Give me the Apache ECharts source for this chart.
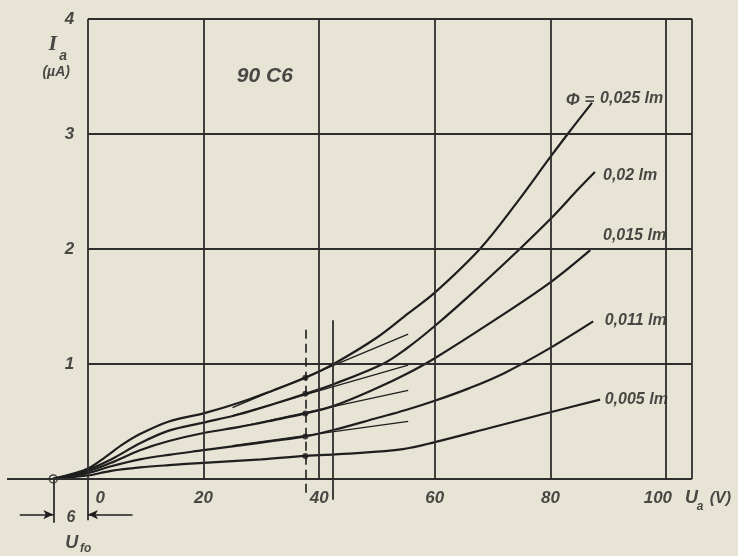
<!DOCTYPE html>
<html>
<head>
<meta charset="utf-8">
<title>90 C6</title>
<script src="https://cdn.jsdelivr.net/npm/echarts@6/dist/echarts.min.js"></script>
<style>
  html, body { margin: 0; padding: 0; background: #e7e3d5; }
  #chart { width: 738px; height: 556px; }
</style>
</head>
<body>
<div id="chart"></div>
<script>
// axis ticks
const xTicks = [0, 20, 40, 60, 80, 100]
const yTicks = [1, 2, 3, 4]

// anode current Ia (uA) vs anode voltage Ua (V), one array per luminous flux
const fluxLabels = ['0,025 lm', '0,02 lm', '0,015 lm', '0,011 lm', '0,005 lm']
const phi025 = [[-6, 0], [-3, 0.04], [0, 0.09], [3, 0.19], [6, 0.3], [9, 0.39], [14, 0.5], [20, 0.57], [26, 0.66], [32, 0.77], [37.6, 0.88], [42.5, 1.0], [50, 1.23], [55.4, 1.44], [60, 1.62], [67.8, 2.0], [74, 2.39], [80, 2.8], [83, 3.0], [87.2, 3.27]]
const phi02 = [[-6, 0], [-3, 0.035], [0, 0.08], [4, 0.17], [9, 0.31], [14, 0.42], [20, 0.49], [26, 0.56], [32, 0.65], [37.6, 0.74], [42.8, 0.83], [51, 1.0], [55, 1.13], [60, 1.33], [67, 1.64], [74.7, 2.0], [80, 2.26], [85, 2.53], [87.7, 2.67]]
const phi015 = [[-6, 0], [-3, 0.03], [0, 0.065], [4, 0.14], [9, 0.25], [14, 0.33], [20, 0.4], [26, 0.45], [32, 0.51], [37.6, 0.57], [42.8, 0.64], [50, 0.79], [55, 0.91], [60, 1.05], [70, 1.37], [80, 1.71], [86.9, 1.99]]
const phi011 = [[-6, 0], [-3, 0.025], [0, 0.05], [4, 0.11], [9, 0.17], [14, 0.21], [20, 0.25], [26, 0.29], [32, 0.33], [37.6, 0.37], [42.8, 0.43], [50, 0.53], [55, 0.6], [60, 0.68], [66, 0.79], [72, 0.92], [80, 1.14], [87.4, 1.37]]
const phi005 = [[-6, 0], [-3, 0.015], [0, 0.03], [4, 0.07], [9, 0.1], [14, 0.12], [20, 0.14], [30, 0.17], [37.6, 0.2], [45, 0.22], [54.5, 0.26], [60, 0.32], [70, 0.45], [80, 0.58], [88.6, 0.69]]

// straight extrapolations of the middle part
const ext025 = [[25, 0.62], [55.4, 1.26]]
const ext02 = [[25, 0.55], [55.4, 0.99]]
const ext015 = [[25, 0.44], [55.4, 0.77]]
const ext011 = [[25, 0.29], [55.4, 0.5]]

// working point marks on the dashed line
const markU = 37.6
const markIa = [0.88, 0.74, 0.57, 0.37, 0.2]
const ufo = -6

const ink = '#1e1e1e'
const font = "'Liberation Sans Narrow', 'Liberation Sans', sans-serif"

function seg(x1, y1, x2, y2) {
  return [{ coord: [x1, y1] }, { coord: [x2, y2] }]
}

function text(x, y, str, size, align, family) {
  return {
    value: [x, y],
    label: {
      show: true,
      formatter: str,
      fontSize: size,
      align: align || 'center',
      verticalAlign: 'middle',
      fontFamily: family || font,
      fontStyle: 'italic',
      fontWeight: 'bold',
      color: ink
    }
  }
}

// frame + grid
const xRight = 104.5
const gridLines = []
xTicks.forEach(t => gridLines.push(seg(t, 0, t, 4)))
gridLines.push(seg(xRight, 0, xRight, 4))
yTicks.forEach(t => gridLines.push(seg(0, t, xRight, t)))
gridLines.push(seg(-14, 0, xRight, 0))
gridLines.push(seg(0, 0, 0, -0.36))
gridLines.push(seg(ufo, 0, ufo, -0.38))
gridLines.push(seg(42.4, -0.18, 42.4, 1.38))

// texts
const texts = []
yTicks.forEach(t => texts.push(text(-3.2, t, String(t), 17)))
xTicks.forEach(t => texts.push(text(t === 0 ? 2.1 : (t === 100 ? 98.6 : t), -0.17, String(t), 17)))
texts.push(text(30.6, 3.5, '90 C6', 21))
texts.push(text(-6.1, 3.78, 'I', 22, 'center', "'Liberation Serif', serif"))
texts.push(text(-4.3, 3.68, 'a', 14))
texts.push(text(-5.5, 3.54, '(µA)', 14))
texts.push(text(104.4, -0.165, 'U', 18))
texts.push(text(105.9, -0.245, 'a', 12))
texts.push(text(109.4, -0.17, '(V)', 16))
texts.push(text(-2.94, -0.34, '6', 16))
texts.push(text(-2.8, -0.557, 'U', 18))
texts.push(text(-0.4, -0.61, 'fo', 12))
texts.push(text(87.6, 3.29, 'Φ =', 17, 'right'))
const labelPos = [[88.6, 3.31], [89.1, 2.64], [89.1, 2.12], [89.4, 1.38], [89.4, 0.69]]
fluxLabels.forEach((s, i) => texts.push(text(labelPos[i][0], labelPos[i][1], s, 16, 'left')))

const curves = [phi025, phi02, phi015, phi011, phi005]
const exts = [ext025, ext02, ext015, ext011]

const series = []
curves.forEach((d, i) => {
  series.push({
    name: fluxLabels[i],
    type: 'line',
    data: d,
    smooth: 0.35,
    symbol: 'none',
    lineStyle: { color: ink, width: 2.2 }
  })
})
exts.forEach(d => {
  series.push({
    type: 'line',
    data: d,
    symbol: 'none',
    lineStyle: { color: ink, width: 1.3 }
  })
})
series.push({
  type: 'line',
  data: [],
  markLine: {
    silent: true,
    symbol: 'none',
    label: { show: false },
    lineStyle: { color: '#2e2e2e', width: 1.8, type: 'solid' },
    data: gridLines
  }
})
// dashed working line
series.push({
  type: 'line',
  data: [],
  markLine: {
    silent: true,
    symbol: 'none',
    label: { show: false },
    lineStyle: { color: ink, width: 1.6, type: [9, 5] },
    data: [seg(markU, -0.12, markU, 1.34)]
  }
})
// Ufo arrows
series.push({
  type: 'line',
  data: [],
  markLine: {
    silent: true,
    symbol: ['none', 'arrow'],
    symbolSize: [7, 10],
    label: { show: false },
    lineStyle: { color: ink, width: 1.5, type: 'solid' },
    data: [seg(-11.8, -0.31, ufo, -0.31), seg(7.7, -0.31, 0, -0.31)]
  }
})
series.push({
  type: 'scatter',
  data: markIa.map(v => [markU, v]),
  symbol: 'circle',
  symbolSize: 6,
  itemStyle: { color: ink }
})
series.push({
  type: 'scatter',
  data: [[ufo, 0]],
  symbol: 'circle',
  symbolSize: 8,
  itemStyle: { color: '#e7e3d5', borderColor: ink, borderWidth: 1.5 }
})
series.push({
  type: 'scatter',
  data: texts,
  symbolSize: 0,
  clip: false
})

const chart = echarts.init(document.getElementById('chart'))
chart.setOption({
  backgroundColor: '#e7e3d5',
  animation: false,
  grid: { left: 0, right: 0, top: 0, bottom: 0 },
  xAxis: { type: 'value', min: -15.22, max: 112.46, show: false },
  yAxis: { type: 'value', min: -0.67, max: 4.165, show: false },
  series: series
})
</script>
</body>
</html>
